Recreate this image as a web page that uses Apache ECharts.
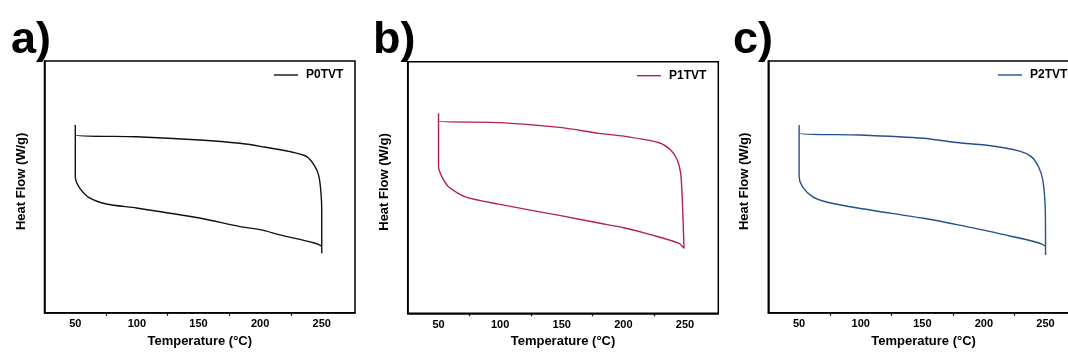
<!DOCTYPE html>
<html>
<head>
<meta charset="utf-8">
<script src="https://cdn.jsdelivr.net/npm/echarts@6/dist/echarts.min.js"></script>
<style>
html,body{margin:0;padding:0;background:#fff;}
#chart{width:1068px;height:356px;}
</style>
</head>
<body>
<div id="chart"></div>
<script>
// Panel labels and series names
const panelLabels = ['a)', 'b)', 'c)'];
const seriesNames = ['P0TVT', 'P1TVT', 'P2TVT'];
const xTickLabels = [50, 100, 150, 200, 250];
const xMinorTicks = [75, 125, 175, 225];

// P0TVT heating/cooling loop (temperature °C, heat flow arbitrary units)
const tempP0 = [50, 50, 99.6, 151, 183.6, 201.2, 224.1, 237.8, 244.6, 247.8, 249.4, 250, 250, 250,
                250, 243.2, 216.1, 201.2, 183.6, 151, 99.6, 75.2, 61.6, 53.5, 50, 50];
const flowP0 = [74.6, 70.6, 69.9, 68.6, 67.3, 66.0, 64.0, 62.0, 58.0, 54.0, 47.6, 40.8, 26.2, 23.6,
                26.2, 27.8, 30.9, 32.9, 34.2, 37.6, 41.6, 43.2, 45.6, 49.6, 54.0, 70.6];

// P1TVT
const tempP1 = [50, 50, 100.2, 150.2, 180, 200.4, 228.9, 238.4, 243.7, 246.5, 247.8, 249.2,
                245.1, 223.4, 200.4, 180, 150.2, 98.8, 71.7, 58.1, 52.7, 50, 50];
const flowP1 = [79.5, 76.4, 75.8, 73.8, 71.5, 70.4, 67.8, 64.9, 60.9, 55.6, 45.0, 25.8,
                27.8, 31.1, 34.0, 35.9, 38.7, 43.4, 46.3, 50.3, 54.3, 58.3, 76.4];

// P2TVT
const tempP2 = [50, 50, 98.8, 151, 180, 201, 228.9, 238.4, 244.3, 247.8, 249.8, 250, 250,
                250, 211.4, 180, 151, 98.8, 71.5, 60.8, 52.7, 50, 50];
const flowP2 = [74.6, 71.3, 70.6, 69.3, 67.5, 66.6, 64.2, 62.0, 58.0, 52.7, 40.8, 26.2, 22.9,
                26.2, 31.5, 34.8, 37.5, 41.5, 44.1, 46.1, 50.1, 54.0, 71.3];

const temps = [tempP0, tempP1, tempP2];
const flows = [flowP0, flowP1, flowP2];
const colors = ['#111111', '#b5224f', '#24508f'];

const grids = [
  {left: 44.5, top: 61, width: 310.5, height: 251.7},
  {left: 407.7, top: 61.7, width: 310.6, height: 251.6},
  {left: 768.3, top: 61, width: 310.5, height: 251.7}
];
const titlePos = [11, 373, 733];
const legendPos = [274, 637, 998];

const FONT = 'Arial, "Liberation Sans", sans-serif';

const option = {
  animation: false,
  backgroundColor: '#fff',
  title: [],
  legend: [],
  grid: [],
  xAxis: [],
  yAxis: [],
  series: []
};

for (let i = 0; i < 3; i++) {
  const g = grids[i];
  option.grid.push({
    left: g.left, top: g.top, width: g.width, height: g.height,
    show: true, borderColor: '#000', borderWidth: 1.5, containLabel: false,
    outerBoundsMode: 'none'
  });
  option.title.push({
    text: panelLabels[i], left: titlePos[i], top: 18, padding: 0,
    textStyle: {fontFamily: FONT, fontSize: 45, fontWeight: 'bold', color: '#000'}
  });
  option.xAxis.push({
    type: 'value', gridIndex: i, min: 25, max: 277,
    name: 'Temperature (°C)', nameLocation: 'middle', nameGap: 21,
    nameTextStyle: {fontFamily: FONT, fontSize: 13, fontWeight: 'bold', color: '#000'},
    axisLine: {show: true, lineStyle: {color: '#000', width: 1.5}},
    axisTick: {show: false},
    splitLine: {show: false},
    axisLabel: {
      customValues: xTickLabels, fontFamily: FONT, fontSize: 11, fontWeight: 'bold',
      color: '#000', margin: 6
    }
  });
  option.yAxis.push({
    type: 'value', gridIndex: i, min: 0, max: 100,
    name: 'Heat Flow (W/g)', nameLocation: 'middle', nameGap: 17, nameRotate: 90,
    nameTextStyle: {fontFamily: FONT, fontSize: 13, fontWeight: 'bold', color: '#000', padding: [0, 0, 0, 11]},
    axisLine: {show: true, lineStyle: {color: '#000', width: 1.5}},
    axisTick: {show: false}, axisLabel: {show: false}, splitLine: {show: false}
  });
  option.legend.push({
    data: [seriesNames[i]],
    left: legendPos[i], top: g.top + 8, padding: 0,
    icon: 'rect', itemWidth: 24, itemHeight: 1.4, itemGap: 0,
    textStyle: {fontFamily: FONT, fontSize: 12, fontWeight: 'bold', color: '#000', padding: [0, 0, 0, 3]}
  });
  option.series.push({
    name: seriesNames[i], type: 'line',
    xAxisIndex: i, yAxisIndex: i,
    data: temps[i].map((t, k) => [t, flows[i][k]]),
    symbol: 'none', showSymbol: false, smooth: 0.25,
    lineStyle: {color: colors[i], width: 1.4},
    itemStyle: {color: colors[i]}
  });
}
// minor tick axes (overlay)
for (let i = 0; i < 3; i++) {
  option.xAxis.push({
    type: 'value', gridIndex: i, min: 25, max: 277, position: 'bottom',
    axisLine: {show: false},
    axisTick: {show: true, customValues: xMinorTicks, length: 3, inside: false,
               lineStyle: {color: '#000', width: 1.2}},
    axisLabel: {show: false}, splitLine: {show: false}
  });
}

const chart = echarts.init(document.getElementById('chart'), null, {renderer: 'canvas'});
chart.setOption(option);
</script>
</body>
</html>
